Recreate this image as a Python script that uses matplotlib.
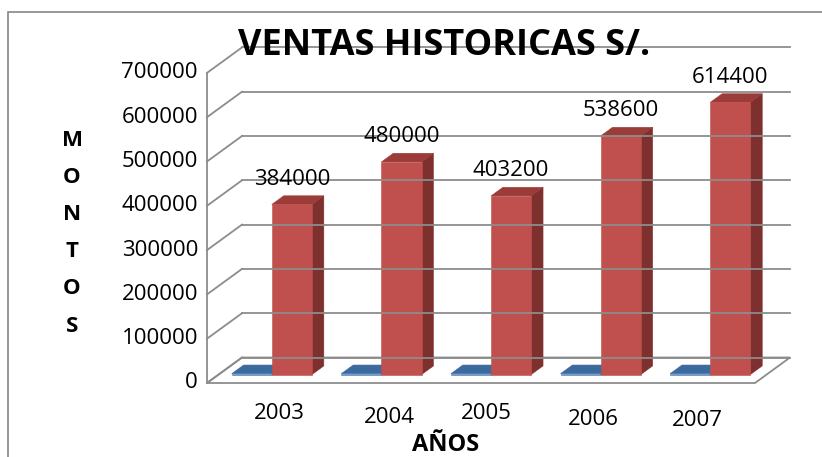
import matplotlib.pyplot as plt
from matplotlib.patches import Polygon, Rectangle

# datos del grafico
years = ['2003', '2004', '2005', '2006', '2007']
ventas = [384000, 480000, 403200, 538600, 614400]
anios = [2003, 2004, 2005, 2006, 2007]   # la columna de años quedo como serie
y_ticks = [0, 100000, 200000, 300000, 400000, 500000, 600000, 700000]

# pequeños ajustes de posicion de las etiquetas de año (puntos)
year_nudge = [(14, -22), (14, -25), (5, -22), (3, -26), (-1, -27)]

W, H = 822, 457
fig = plt.figure(figsize=(W / 100, H / 100), dpi=100)
ax = fig.add_axes([0, 0, 1, 1])

# escala: pixeles por categoria y por unidad de valor
px_x = 109.6
px_y = 44.3 / 100000
x0_px, y0_px = 207, 383
ax.set_xlim(-x0_px / px_x, (W - x0_px) / px_x)
ax.set_ylim(-(H - y0_px) / px_y, y0_px / px_y)
ax.axis('off')

# desplazamiento de profundidad (efecto 3D oblicuo)
DX = 35 / px_x
DV = 25.5 / px_y


def P(x, v, z):
    return (x + z * DX, v + z * DV)


grid_c = '#8c8c8c'
n = len(years)
vmax = y_ticks[-1]

# piso
floor = [P(0, 0, 0), P(n, 0, 0), P(n, 0, 1), P(0, 0, 1)]
ax.add_patch(Polygon(floor, closed=True, facecolor='white', edgecolor=grid_c, lw=1.3))

# lineas de division en la pared del fondo y la pared izquierda
for v in y_ticks:
    xs, ys = zip(P(0, v, 1), P(n, v, 1))
    ax.plot(xs, ys, color=grid_c, lw=1.3)
    xs, ys = zip(P(0, v, 0), P(0, v, 1))
    ax.plot(xs, ys, color=grid_c, lw=1.3)
xs, ys = zip(P(0, 0, 0), P(0, vmax, 0))
ax.plot(xs, ys, color=grid_c, lw=1.3)


def bar3d(x, w, v, z0, z1, front, side, top):
    f = [P(x, 0, z0), P(x + w, 0, z0), P(x + w, v, z0), P(x, v, z0)]
    s = [P(x + w, 0, z0), P(x + w, 0, z1), P(x + w, v, z1), P(x + w, v, z0)]
    t = [P(x, v, z0), P(x + w, v, z0), P(x + w, v, z1), P(x, v, z1)]
    for pts, c in ((s, side), (t, top), (f, front)):
        ax.add_patch(Polygon(pts, closed=True, facecolor=c, edgecolor=c, lw=0.4))


bw = 0.366
z0, z1 = 0.33, 0.67
for i in range(n):
    xb = i + 0.12
    bar3d(xb, bw, anios[i], z0, z1, '#4f81bd', '#2c4d75', '#3d6a9e')
    bar3d(xb + bw, bw, ventas[i], z0, z1, '#c0504d', '#7e302e', '#9c3c39')
    ax.annotate(str(ventas[i]), P(xb + 1.5 * bw, ventas[i], z0),
                xytext=(0, 18), textcoords='offset points',
                ha='center', va='center', fontsize=16, family='Open Sans')
    ax.annotate(years[i], P(xb + bw, 0, 0), xytext=year_nudge[i],
                textcoords='offset points', ha='center', va='center',
                fontsize=16, family='Open Sans')

# etiquetas del eje de valores
for v in y_ticks:
    ax.annotate(str(v), P(0, v, 0), xytext=(-6.5, 0), textcoords='offset points',
                ha='right', va='center', fontsize=16, family='Open Sans')

# marco del grafico
fig.patches.append(Rectangle((8 / W, -0.1), 1.0, (H - 12) / H + 0.1, transform=fig.transFigure,
                             fill=False, edgecolor='#8f8f8f', lw=1.3))

fig.text(444 / W, 1 - 46 / H, 'VENTAS HISTORICAS S/.', ha='center', va='center',
         fontsize=26, fontweight='bold', family='Open Sans')
fig.text(446 / W, 1 - 445 / H, 'AÑOS', ha='center', va='center',
         fontsize=17, fontweight='bold', family='Open Sans')
for k, letra in enumerate('MONTOS'):
    fig.text(72 / W, 1 - (140 + k * 37.2) / H, letra, ha='center', va='center',
             fontsize=16, fontweight='bold', family='Open Sans')

fig.savefig('out.png', dpi=100)
